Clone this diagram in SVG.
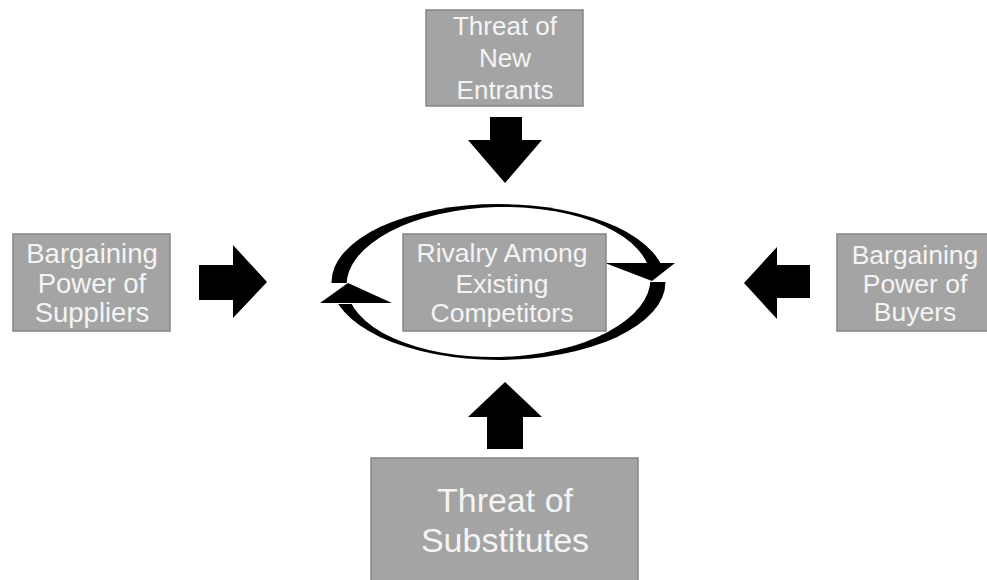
<svg xmlns="http://www.w3.org/2000/svg" width="987" height="580" viewBox="0 0 987 580">
  <style>
    .box { fill: #a4a4a4; stroke: #868686; stroke-width: 1.5; }
    .lbl { font-family: "Liberation Sans", Arial, sans-serif; fill: #f4f4f4; text-anchor: middle; }
    .arrow { fill: #000000; }
  </style>
  <defs>
    <!-- hollow of the rivalry ring, plus the breaks where the arrowheads sit -->
    <mask id="ringMask" maskUnits="userSpaceOnUse" x="0" y="0" width="987" height="580">
      <rect x="0" y="0" width="987" height="580" fill="#fff"/>
      <ellipse cx="498.5" cy="282" rx="152" ry="75" fill="#000" transform="rotate(-1.5 498.5 282)"/>
      <rect x="318" y="283" width="42" height="21" fill="#000"/>
      <rect x="636" y="263" width="40" height="19" fill="#000"/>
    </mask>
  </defs>
  <rect x="0" y="0" width="987" height="580" fill="#ffffff"/>

  <g id="connectors">
    <!-- circular rivalry arrows -->
    <ellipse class="arrow" cx="498.5" cy="282" rx="167" ry="78" mask="url(#ringMask)"/>
    <polygon class="arrow" points="605,263 675,263 652,281"/>
    <polygon class="arrow" points="320,303 392,303 348,283"/>
    <!-- force arrows -->
    <polygon class="arrow" points="490,117 522,117 522,140 542,140 505,183 468,140 490,140"/>
    <polygon class="arrow" points="487,449 523,449 523,417 542,417 505,382 468,417 487,417"/>
    <polygon class="arrow" points="199,265 233,265 233,245 267,282 233,318 233,300 199,300"/>
    <polygon class="arrow" points="810,265 777,265 777,247 744,283 777,319 777,298 810,298"/>
  </g>

  <g id="rivalry">
    <rect class="box" x="403" y="234" width="203" height="97"/>
    <text class="lbl" font-size="26.5" x="502" y="262">Rivalry Among</text>
    <text class="lbl" font-size="26.5" x="502" y="293">Existing</text>
    <text class="lbl" font-size="26.5" x="502" y="322">Competitors</text>
  </g>

  <g id="new-entrants">
    <rect class="box" x="426" y="10" width="157" height="96"/>
    <text class="lbl" font-size="26" x="505" y="35">Threat of</text>
    <text class="lbl" font-size="26" x="505" y="67">New</text>
    <text class="lbl" font-size="26" x="505" y="99">Entrants</text>
  </g>

  <g id="suppliers">
    <rect class="box" x="13" y="234" width="157" height="97"/>
    <text class="lbl" font-size="27.5" x="92" y="263">Bargaining</text>
    <text class="lbl" font-size="27.5" x="92" y="293">Power of</text>
    <text class="lbl" font-size="27.5" x="92" y="322">Suppliers</text>
  </g>

  <g id="buyers">
    <rect class="box" x="837" y="234" width="152" height="97"/>
    <text class="lbl" font-size="26.5" x="915" y="264">Bargaining</text>
    <text class="lbl" font-size="26.5" x="915" y="293">Power of</text>
    <text class="lbl" font-size="26.5" x="915" y="321">Buyers</text>
  </g>

  <g id="substitutes">
    <rect class="box" x="371" y="458" width="267" height="130"/>
    <text class="lbl" font-size="34" x="505" y="512">Threat of</text>
    <text class="lbl" font-size="34" x="505" y="552">Substitutes</text>
  </g>
</svg>
